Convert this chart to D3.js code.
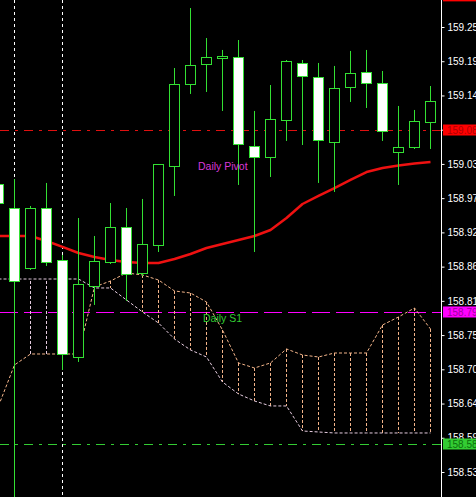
<!DOCTYPE html>
<html><head><meta charset="utf-8">
<script src="https://cdn.jsdelivr.net/npm/d3@7"></script>
<style>html,body{margin:0;padding:0;background:#000;overflow:hidden}</style>
</head><body>
<svg id="c" width="476" height="497"></svg>
<script>
// ---- data ----
const bars = d3.range(28).map(i => "B" + (i + 1));
const open  = [158.9978,158.9592,158.8628,158.9592,158.8757,158.7198,158.8339,158.8724,158.9287,158.8548,158.8998,159.0267,159.1584,159.1906,159.2002,159.2018,159.0588,159.0412,159.1006,159.1922,159.1697,159.0653,159.1536,159.1777,159.1600,159.0492,159.0572,159.0974];
const high  = [159.0122,159.0058,158.9624,158.9994,158.8837,158.9431,158.9142,158.9672,158.9592,158.9737,159.0299,159.1841,159.2805,159.2323,159.2131,159.2291,159.1151,159.1568,159.1970,159.1970,159.1922,159.1874,159.2115,159.2131,159.1793,159.1231,159.1167,159.1552];
const low   = [158.9528,158.4820,158.8596,158.8660,158.6989,158.7118,158.8034,158.8692,158.8098,158.8500,158.8885,158.9785,159.1424,159.1456,159.1151,158.9962,158.8885,159.0090,159.0669,159.0604,158.9994,158.9849,159.1295,159.1199,159.0669,158.9962,159.0540,159.0540];
const close = [158.9672,158.8419,158.9592,158.8724,158.7246,158.8371,158.8741,158.9287,158.8532,158.9014,159.0299,159.1584,159.1890,159.2018,159.2034,159.0620,159.0412,159.1022,159.1954,159.1713,159.0685,159.1520,159.1761,159.1600,159.0829,159.0572,159.0990,159.1311];
const ma    = [158.9142,158.9142,158.9142,158.9062,158.8966,158.8869,158.8805,158.8757,158.8724,158.8708,158.8708,158.8773,158.8853,158.8949,158.9014,158.9078,158.9142,158.9239,158.9431,158.9656,158.9785,158.9913,159.0042,159.0170,159.0235,159.0275,159.0307,159.0331];
const spanA = [158.6411,158.7070,158.7246,158.7246,158.7246,158.7246,158.8323,158.8419,158.8548,158.8516,158.8435,158.8259,158.8226,158.8082,158.7632,158.7102,158.7021,158.7102,158.7327,158.7230,158.7198,158.7262,158.7262,158.7262,158.7712,158.7841,158.7985,158.7648];
const spanB = [158.8451,158.8451,158.8451,158.8451,158.8451,158.8451,158.8307,158.8307,158.8114,158.7921,158.7744,158.7487,158.7311,158.7198,158.6796,158.6604,158.6491,158.6411,158.6411,158.6009,158.5993,158.5977,158.5977,158.5977,158.5977,158.5977,158.5977,158.5977];
const tickValues = [159.250,159.195,159.140,159.085,159.030,158.975,158.920,158.865,158.810,158.755,158.700,158.645,158.590,158.535];
const levelNames  = ["Daily R1","Daily Pivot","Daily S1","Daily S2"];
const levelPrices = [159.300,159.0845,158.7921,158.5800];
const separators = ["B2","B5"];

// ---- layout ----
const W = 476, H = 497, AX = 441;
const svg = d3.select("#c");
svg.append("rect").attr("width", W).attr("height", H).attr("fill", "#000");
const y = d3.scaleLinear().domain([158.535, 159.25]).range([472, 27]);
const x = d3.scalePoint().domain(bars).range([-2, 430]);

svg.append("defs").append("clipPath").attr("id", "plot")
  .append("rect").attr("x", 0).attr("y", 0).attr("width", AX).attr("height", H);
const g = svg.append("g").attr("clip-path", "url(#plot)");

// period separators
g.selectAll(".sep").data(separators).join("line")
  .attr("x1", d => x(d) + 0.5).attr("x2", d => x(d) + 0.5)
  .attr("y1", 0).attr("y2", H)
  .attr("stroke", "#fff").attr("stroke-width", 1).attr("stroke-dasharray", "3,3");

// level lines
const lvlColor = ["#ff0000", "#e01010", "#ff00ff", "#33cc33"];
const lvlDash  = ["9,6,3,6", "9,6,3,6", "18,6", "9,6,3,6"];
levelPrices.forEach((p, i) => {
  g.append("line").attr("x1", 0).attr("x2", AX).attr("y1", Math.round(y(p)) + 0.5).attr("y2", Math.round(y(p)) + 0.5)
    .attr("stroke", lvlColor[i]).attr("stroke-width", 1).attr("stroke-dasharray", lvlDash[i]);
});

// ichimoku cloud
const cloudA = "#f4b58a", cloudB = "#e6cce0";
bars.forEach((b, i) => {
  g.append("line").attr("x1", x(b) + 0.5).attr("x2", x(b) + 0.5)
    .attr("y1", y(spanA[i])).attr("y2", y(spanB[i]))
    .attr("stroke", spanA[i] >= spanB[i] ? cloudA : cloudB)
    .attr("stroke-width", 1).attr("stroke-dasharray", "3,2");
});
const lineGen = arr => d3.line().x((d, i) => x(bars[i]) + 0.5).y(d => y(d))(arr);
g.append("path").attr("d", lineGen(spanA)).attr("fill", "none").attr("stroke", cloudA).attr("stroke-width", 1).attr("stroke-dasharray", "3,2");
g.append("path").attr("d", lineGen(spanB)).attr("fill", "none").attr("stroke", cloudB).attr("stroke-width", 1).attr("stroke-dasharray", "3,2");

// moving average
g.append("path").attr("d", lineGen(ma)).attr("fill", "none").attr("stroke", "#ee1111").attr("stroke-width", 2.5).attr("stroke-linejoin", "round");

// candles
const green = "#33e033";
bars.forEach((b, i) => {
  const cx = x(b);
  g.append("line").attr("x1", cx + 0.5).attr("x2", cx + 0.5)
    .attr("y1", y(high[i])).attr("y2", y(low[i]))
    .attr("stroke", green).attr("stroke-width", 1);
  const top = y(Math.max(open[i], close[i])), bot = y(Math.min(open[i], close[i]));
  g.append("rect").attr("x", cx - 4.5).attr("width", 10)
    .attr("y", Math.round(top) + 0.5).attr("height", Math.max(1, Math.round(bot) - Math.round(top)))
    .attr("fill", close[i] < open[i] ? "#fff" : "#000")
    .attr("stroke", green).attr("stroke-width", 1);
});

// text labels
g.append("text").attr("x", x("B13") + 8).attr("y", y(levelPrices[1]) + 40)
  .attr("fill", "#d838d8").attr("font-family", "Liberation Sans, Arial, sans-serif").attr("font-size", 10.5)
  .text(levelNames[1]);
g.append("text").attr("x", x("B13") + 13).attr("y", y(levelPrices[2]) + 10)
  .attr("fill", "#33cc33").attr("font-family", "Liberation Sans, Arial, sans-serif").attr("font-size", 10.5)
  .text(levelNames[2]);

// right axis
svg.append("line").attr("x1", AX + 0.5).attr("x2", AX + 0.5).attr("y1", 0).attr("y2", H).attr("stroke", "#fff");
const axisG = svg.append("g").attr("transform", `translate(${AX + 0.5},0)`)
  .call(d3.axisRight(y).tickValues(tickValues).tickSize(3).tickPadding(3).tickFormat(d3.format(".3f")));
axisG.select(".domain").remove();
axisG.selectAll("line").attr("stroke", "#fff");
axisG.selectAll("text").attr("fill", "#fff").attr("font-family", "Liberation Sans, Arial, sans-serif").attr("font-size", 10);

// price labels for levels
const boxBg = ["#ff0000", "#ff0000", "#ff00ff", "#33cc33"];
const boxFg = ["#b00000", "#b00000", "#a000a0", "#0b700b"];
levelPrices.forEach((p, i) => {
  const cy = y(p);
  svg.append("rect").attr("x", AX + 2).attr("y", cy - 5.5).attr("width", W - AX).attr("height", 11).attr("fill", boxBg[i]);
  svg.append("text").attr("x", AX + 6).attr("y", cy + 4).attr("fill", boxFg[i])
    .attr("font-family", "Liberation Sans, Arial, sans-serif").attr("font-size", 10)
    .text(d3.format(".3f")(p));
});
</script>
</body></html>
